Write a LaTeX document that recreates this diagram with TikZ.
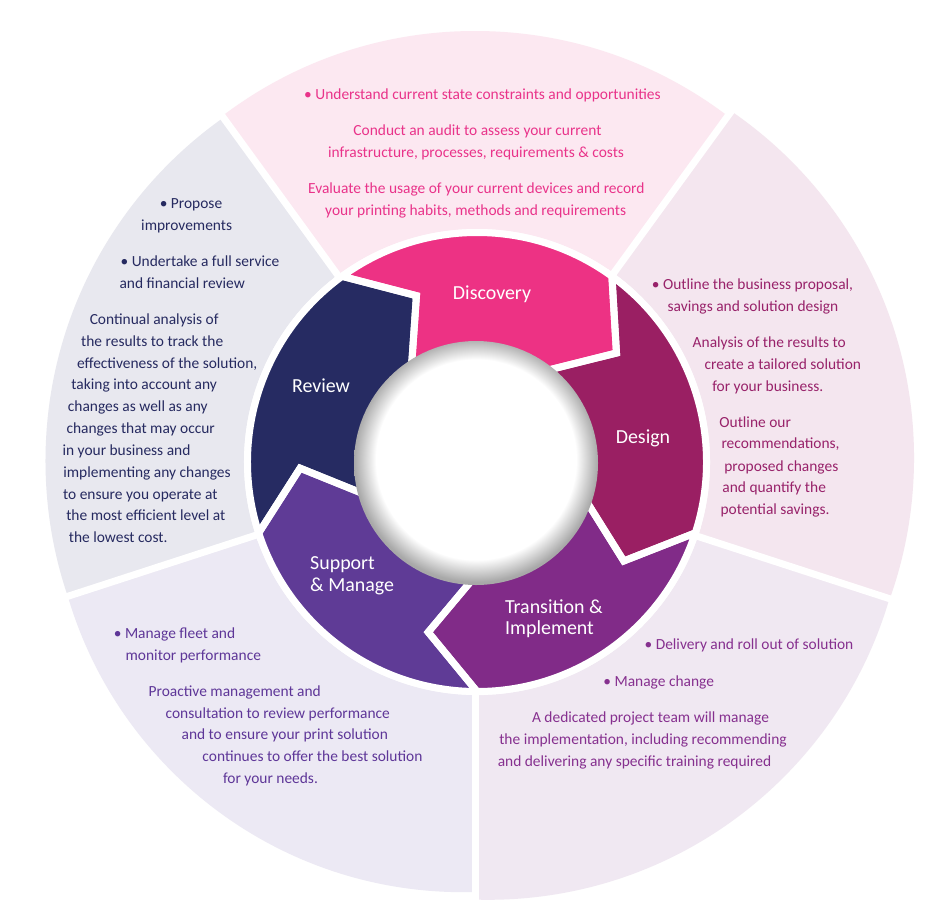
\documentclass[tikz,border=0pt]{standalone}
\usepackage{fontspec}
\setmainfont{Carlito}
\usetikzlibrary{calc}
\definecolor{discA}{HTML}{ED3284}
\definecolor{discT}{HTML}{E9338A}
\definecolor{discBG}{HTML}{FCE8F1}
\definecolor{desA}{HTML}{9A1F63}
\definecolor{desT}{HTML}{98226A}
\definecolor{desBG}{HTML}{F4E6EF}
\definecolor{traA}{HTML}{812B88}
\definecolor{traT}{HTML}{86308F}
\definecolor{traBG}{HTML}{F0E8F2}
\definecolor{supA}{HTML}{5F3B96}
\definecolor{supT}{HTML}{5E3698}
\definecolor{supBG}{HTML}{ECE9F4}
\definecolor{revA}{HTML}{262B62}
\definecolor{revT}{HTML}{262A60}
\definecolor{revBG}{HTML}{E8E8EF}
\pgfdeclareradialshading{rimshade}{\pgfpoint{0bp}{1.2bp}}{color(0bp)=(white); color(20.5bp)=(white); color(25bp)=(black!34); color(50bp)=(black!34)}
\begin{document}
\begin{tikzpicture}[x=1bp, y=-1bp,
  body/.style={font=\fontsize{15.5}{18}\selectfont, inner sep=0pt, anchor=mid, yshift=-3bp},
  lab/.style={font=\fontsize{20}{22}\selectfont, text=white, inner sep=0pt},
  gapline/.style={white, line width=7bp},
  sep/.style={draw=white, line width=7bp, line join=miter}]
\useasboundingbox (0,0) rectangle (927,907);
\fill[white] (0,0) rectangle (927,907);

% ---------- outer segments ----------
\begin{scope}[shift={(475,464)}, y=1bp]
  \coordinate (O) at (0,0);
  \foreach \b/\d/\r/\col in {90/15/418/discBG, 18/20/420/desBG, -54/22/418/traBG, -126/20/412/supBG, 162/10/420/revBG}{
    \begin{scope}
      \clip (0,0) -- ({\b+36}:700) -- (\b:700) -- ({\b-36}:700) -- cycle;
      \fill[\col] (\b:\d) circle[radius=\r];
    \end{scope}
  }
  \foreach \a in {54,126,198,270,342}{
    \coordinate (G\a) at (\a:700);
    \draw[gapline] (O) -- (G\a);
  }
\end{scope}

% ---------- ring of arrows ----------
\begin{scope}[shift={(477,462)}, y=1bp]
  \fill[white] (0,0) circle[radius=233];
  \foreach \b/\col in {90/discA, 18/desA, -54/traA, -126/supA, 162/revA}{
    \fill[\col] ({\b+36}:229.5) arc[start angle={\b+36}, end angle={\b-36}, radius=229.5]
      -- ({\b-52}:177) -- ({\b-36}:112)
      arc[start angle={\b-36}, end angle={\b+36}, radius=112]
      -- ({\b+20}:177) -- cycle;
  }
  \foreach \b in {90, 18, -54, -126, 162}{
    \draw[sep] ({\b+36}:229.5) arc[start angle={\b+36}, end angle={\b-36}, radius=229.5]
      -- ({\b-52}:177) -- ({\b-36}:112)
      arc[start angle={\b-36}, end angle={\b+36}, radius=112]
      -- ({\b+20}:177) -- cycle;
  }
  \shade[shading=rimshade] (-1,-1) circle[radius=122];
\end{scope}

% ---------- arrow labels ----------
\node[lab, anchor=mid] (lDisc) at (492,297) {Discovery};
\node[lab, anchor=mid] (lDes) at (643,441) {Design};
\node[lab, anchor=mid] (lRev) at (321,390) {Review};
\node[lab, anchor=west, align=left] (lSup) at (310,576) {Support\\\& Manage};
\node[lab, anchor=west, align=left, font=\fontsize{20}{21}\selectfont] (lTra) at (505,618.5) {Transition \&\\Implement};

% ---------- Discovery text ----------
\begin{scope}[every node/.style={body, text=discT}]
\node (d1) at (482.5,94.3) {• Understand current state constraints and opportunities};
\node (d2) at (477.5,130) {Conduct an audit to assess your current};
\node (d3) at (476,151.7) {infrastructure, processes, requirements \& costs};
\node (d4) at (476.3,187.7) {Evaluate the usage of your current devices and record};
\node (d5) at (475.7,210) {your printing habits, methods and requirements};
\end{scope}

% ---------- Design text ----------
\begin{scope}[every node/.style={body, text=desT}]
\node (g1) at (752.5,284) {• Outline the business proposal,};
\node (g2) at (753,305.7) {savings and solution design};
\node (g3) at (769.3,342) {Analysis of the results to};
\node (g4) at (782.8,364) {create a tailored solution};
\node (g5) at (767.8,386) {for your business.};
\node (g6) at (755.2,422) {Outline our};
\node (g7) at (780.5,443.3) {recommendations,};
\node (g8) at (781.3,465.7) {proposed changes};
\node (g9) at (774.2,487.3) {and quantify the};
\node (g10) at (775,509.3) {potential savings.};
\end{scope}

% ---------- Transition text ----------
\begin{scope}[every node/.style={body, text=traT}]
\node (t1) at (749,644.3) {• Delivery and roll out of solution};
\node (t2) at (658.7,681) {• Manage change};
\node (t3) at (650.5,717) {A dedicated project team will manage};
\node (t4) at (643,738.7) {the implementation, including recommending};
\node (t5) at (634.5,760.7) {and delivering any specific training required};
\end{scope}

% ---------- Support text ----------
\begin{scope}[every node/.style={body, text=supT}]
\node (s1) at (174.5,632.7) {• Manage fleet and};
\node (s2) at (193.3,654.7) {monitor performance};
\node (s3) at (234.7,690.7) {Proactive management and};
\node (s4) at (277.8,712.7) {consultation to review performance};
\node (s5) at (284.8,734.3) {and to ensure your print solution};
\node (s6) at (312.5,756.3) {continues to offer the best solution};
\node (s7) at (270.5,777.7) {for your needs.};
\end{scope}

% ---------- Review text ----------
\begin{scope}[every node/.style={body, text=revT}]
\node (r1) at (191,202.7) {• Propose};
\node (r2) at (186.7,225) {improvements};
\node (r3) at (200,261) {• Undertake a full service};
\node (r4) at (182.2,282.7) {and financial review};
\node (r5) at (154.2,318.7) {Continual analysis of};
\node (r6) at (152.2,340.7) {the results to track the};
\node (r7) at (167.2,362.7) {effectiveness of the solution,};
\node (r8) at (144.2,384.3) {taking into account any};
\node (r9) at (137.8,406) {changes as well as any};
\node (r10) at (140.7,428) {changes that may occur};
\node (r11) at (126.5,450) {in your business and};
\node (r12) at (147,471.7) {implementing any changes};
\node (r13) at (140.3,493.7) {to ensure you operate at};
\node (r14) at (145.8,515.3) {the most efficient level at};
\node (r15) at (118.2,537.3) {the lowest cost.};
\end{scope}
\end{tikzpicture}
\end{document}
